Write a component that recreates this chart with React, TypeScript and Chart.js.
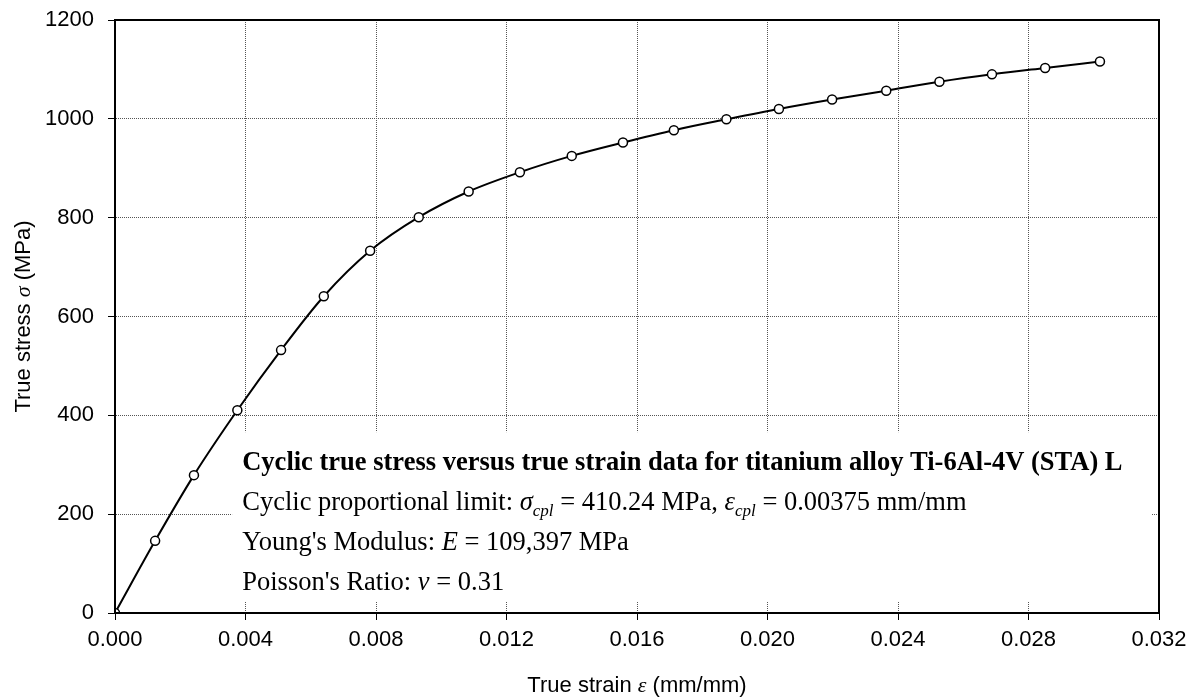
import React, { useEffect, useRef } from "react";
import { Chart, registerables } from "chart.js";

Chart.register(...registerables);

// ---- data ----
const strainValues: number[] = [
  0, 0.00123, 0.00242, 0.00375, 0.00509, 0.0064, 0.00782, 0.00931, 0.01084, 0.01241,
  0.014, 0.01557, 0.01713, 0.01874, 0.02035, 0.02198, 0.02364, 0.02527, 0.02688, 0.02851, 0.03019,
];
const stressValues: number[] = [
  0, 146, 279, 410.24, 532, 641, 733, 801, 853, 892,
  925, 952, 977, 999, 1020, 1039, 1057, 1075, 1090, 1103, 1116,
];
const xTickValues: number[] = [0, 0.004, 0.008, 0.012, 0.016, 0.02, 0.024, 0.028, 0.032];
const yTickValues: number[] = [0, 200, 400, 600, 800, 1000, 1200];

const xAxisTitle = ["True strain ", "ε", " (mm/mm)"];
const yAxisTitle = ["True stress ", "σ", " (MPa)"];
const noteTitle = "Cyclic true stress versus true strain data for titanium alloy Ti-6Al-4V (STA) L";

const SANS = '"Liberation Sans", Arial, sans-serif';
const SERIF = '"Liberation Serif", "Times New Roman", serif';

type Run = { t: string; font: string; dy?: number };

function drawRuns(ctx: CanvasRenderingContext2D, x: number, y: number, runs: Run[]) {
  let cx = x;
  for (const r of runs) {
    ctx.font = r.font;
    ctx.fillText(r.t, cx, y + (r.dy || 0));
    cx += ctx.measureText(r.t).width;
  }
}
function runsWidth(ctx: CanvasRenderingContext2D, runs: Run[]) {
  let w = 0;
  for (const r of runs) {
    ctx.font = r.font;
    w += ctx.measureText(r.t).width;
  }
  return w;
}

const decorPlugin = {
  id: "decor",
  beforeDatasetsDraw(chart: any) {
    const { ctx, scales } = chart;
    const x = scales.x, y = scales.y;
    // white note box (data coordinates)
    const left = x.getPixelForValue(0.00359);
    const right = x.getPixelForValue(0.03178);
    const top = y.getPixelForValue(366);
    const bottom = y.getPixelForValue(22.5);
    ctx.save();
    ctx.fillStyle = "#ffffff";
    ctx.fillRect(left, top, right - left, bottom - top);
    ctx.restore();
  },
  afterDraw(chart: any) {
    const { ctx, chartArea, scales } = chart;
    ctx.save();
    // frame
    ctx.strokeStyle = "#000";
    ctx.lineWidth = 2;
    ctx.strokeRect(chartArea.left, chartArea.top, chartArea.right - chartArea.left, chartArea.bottom - chartArea.top);

    ctx.fillStyle = "#000";
    ctx.textBaseline = "alphabetic";
    ctx.textAlign = "left";

    // x axis title
    const xr: Run[] = [
      { t: xAxisTitle[0], font: `22px ${SANS}` },
      { t: xAxisTitle[1], font: `italic 22px ${SERIF}` },
      { t: xAxisTitle[2], font: `22px ${SANS}` },
    ];
    const xw = runsWidth(ctx, xr);
    const xc = (chartArea.left + chartArea.right) / 2;
    drawRuns(ctx, xc - xw / 2, 692, xr);

    // y axis title
    const yr: Run[] = [
      { t: yAxisTitle[0], font: `22px ${SANS}` },
      { t: yAxisTitle[1], font: `italic 22px ${SERIF}` },
      { t: yAxisTitle[2], font: `22px ${SANS}` },
    ];
    const yw = runsWidth(ctx, yr);
    ctx.save();
    ctx.translate(30, (chartArea.top + chartArea.bottom) / 2);
    ctx.rotate(-Math.PI / 2);
    drawRuns(ctx, -yw / 2, 0, yr);
    ctx.restore();

    // note text
    const tx = scales.x.getPixelForValue(0.0039);
    const base = scales.y.getPixelForValue(290);
    const N = `26.5px ${SERIF}`;
    const I = `italic 26.5px ${SERIF}`;
    const S = `italic 17px ${SERIF}`;
    drawRuns(ctx, tx, base, [{ t: noteTitle, font: `bold 26.5px ${SERIF}` }]);
    drawRuns(ctx, tx, base + 40, [
      { t: "Cyclic proportional limit: ", font: N },
      { t: "σ", font: I },
      { t: "cpl", font: S, dy: 6 },
      { t: " = 410.24 MPa, ", font: N },
      { t: "ε", font: I },
      { t: "cpl", font: S, dy: 6 },
      { t: " = 0.00375 mm/mm", font: N },
    ]);
    drawRuns(ctx, tx, base + 80, [
      { t: "Young's Modulus: ", font: N },
      { t: "E", font: I },
      { t: " = 109,397 MPa", font: N },
    ]);
    drawRuns(ctx, tx, base + 120, [
      { t: "Poisson's Ratio: ", font: N },
      { t: "v", font: I },
      { t: " = 0.31", font: N },
    ]);
    ctx.restore();
  },
};

export default function App() {
  const ref = useRef<HTMLCanvasElement | null>(null);
  useEffect(() => {
    document.body.style.margin = "0";
    const canvas = ref.current;
    if (!canvas) return;
    const points = strainValues.map((s, i) => ({ x: s, y: stressValues[i] }));
    const chart = new Chart(canvas, {
      type: "line",
      data: {
        datasets: [
          {
            data: points,
            borderColor: "#000",
            borderWidth: 2,
            backgroundColor: "#fff",
            pointBackgroundColor: "#fff",
            pointBorderColor: "#000",
            pointBorderWidth: 1.5,
            pointRadius: 4.5,
            cubicInterpolationMode: "monotone",
            fill: false,
          },
        ],
      },
      options: {
        responsive: false,
        animation: false,
        devicePixelRatio: 1,
        layout: { padding: { top: 20, right: 40, left: 0, bottom: 0 } },
        plugins: { legend: { display: false }, tooltip: { enabled: false }, title: { display: false } },
        scales: {
          x: {
            type: "linear",
            min: 0,
            max: 0.032,
            afterFit: (s: any) => { s.height = 87; s.paddingLeft = 0; s.paddingRight = 0; },
            afterBuildTicks: (s: any) => { s.ticks = xTickValues.map((v) => ({ value: v })); },
            ticks: {
              color: "#000",
              font: { family: SANS, size: 22 },
              padding: 7,
              maxRotation: 0,
              autoSkip: false,
              callback: (v: any) => Number(v).toFixed(3),
            },
            grid: { color: "#555", lineWidth: 1, tickLength: 7, tickColor: "#000", tickWidth: 1, tickBorderDash: [] },
            border: { display: true, color: "#000", width: 2, dash: [1, 1] },
          },
          y: {
            type: "linear",
            min: 0,
            max: 1200,
            afterFit: (s: any) => { s.width = 115; s.paddingTop = 0; s.paddingBottom = 0; },
            afterBuildTicks: (s: any) => { s.ticks = yTickValues.map((v) => ({ value: v })); },
            ticks: {
              color: "#000",
              font: { family: SANS, size: 22 },
              padding: 14,
              autoSkip: false,
              callback: (v: any) => String(v),
            },
            grid: { color: "#555", lineWidth: 1, tickLength: 7, tickColor: "#000", tickWidth: 1, tickBorderDash: [] },
            border: { display: true, color: "#000", width: 2, dash: [1, 1] },
          },
        },
      },
      plugins: [decorPlugin],
    } as any);
    return () => chart.destroy();
  }, []);
  return (
    <div style={{ width: 1199, height: 700, position: "relative", background: "#fff" }}>
      <canvas ref={ref} width={1199} height={700} style={{ display: "block" }} />
    </div>
  );
}
